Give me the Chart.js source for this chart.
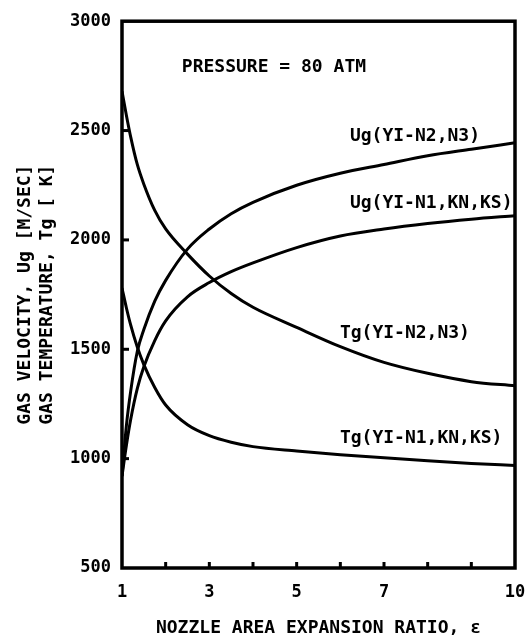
<!DOCTYPE html>
<html>
<head>
<meta charset="utf-8">
<script src="https://cdn.jsdelivr.net/npm/chart.js@4.4.0/dist/chart.umd.min.js"></script>
<style>
html, body { margin: 0; padding: 0; background: #fff; }
canvas { display: block; }
</style>
</head>
<body>
<canvas id="gasChart" width="528" height="640"></canvas>
<script>
// expansion ratio (x) shared by all four curves
var ratio = [1, 1.1, 1.2, 1.35, 1.5, 1.75, 2, 2.5, 3, 3.5, 4, 5, 6, 7, 8, 9, 10];
var ugN2N3 = [920, 1150, 1310, 1490, 1590, 1720, 1815, 1958, 2050, 2120, 2172, 2250, 2305, 2345, 2385, 2415, 2444];
var ugN1KnKs = [920, 1060, 1180, 1320, 1420, 1540, 1630, 1740, 1805, 1855, 1895, 1965, 2018, 2050, 2075, 2095, 2111];
var tgN2N3 = [2680, 2570, 2470, 2345, 2255, 2135, 2050, 1935, 1835, 1755, 1692, 1600, 1512, 1440, 1390, 1352, 1333];
var tgN1KnKs = [1780, 1690, 1610, 1510, 1430, 1325, 1245, 1155, 1105, 1075, 1055, 1035, 1018, 1004, 990, 978, 969];

var xTickLabels = [1, 3, 5, 7, 10];
var curveNames = ['Ug(YI-N2,N3)', 'Ug(YI-N1,KN,KS)', 'Tg(YI-N2,N3)', 'Tg(YI-N1,KN,KS)'];
var noteText = 'PRESSURE = 80 ATM';

var FONT = '"DejaVu Sans Mono", "Liberation Mono", monospace';

function pts(ys) {
    return ratio.map(function (r, i) { return { x: r, y: ys[i] }; });
}

function curve(ys) {
    return {
        data: pts(ys),
        borderColor: '#000',
        borderWidth: 3,
        pointRadius: 0,
        fill: false,
        cubicInterpolationMode: 'monotone'
    };
}

// frame, inward ticks and text labels placed through the scales
var frame = {
    id: 'frame',
    afterDatasetsDraw: function (chart, args, opts) {
        var ctx = chart.ctx, a = chart.chartArea;
        var sx = chart.scales.x, sy = chart.scales.y;
        ctx.save();
        ctx.strokeStyle = '#000';
        ctx.lineWidth = 3;
        sx.ticks.forEach(function (t) {
            if (t.value <= sx.min || t.value >= sx.max) return;
            var px = sx.getPixelForValue(t.value);
            ctx.beginPath();
            ctx.moveTo(px, a.bottom);
            ctx.lineTo(px, a.bottom - 6);
            ctx.stroke();
        });
        sy.ticks.forEach(function (t) {
            if (t.value <= sy.min || t.value >= sy.max) return;
            var py = sy.getPixelForValue(t.value);
            ctx.beginPath();
            ctx.moveTo(a.left, py);
            ctx.lineTo(a.left + 7, py);
            ctx.stroke();
        });
        ctx.lineWidth = 3.5;
        ctx.strokeRect(a.left, a.top, a.right - a.left, a.bottom - a.top);

        ctx.fillStyle = '#000';
        ctx.font = 'bold 18px ' + FONT;
        ctx.textAlign = 'left';
        ctx.textBaseline = 'middle';
        opts.labels.forEach(function (l) {
            ctx.fillText(l.text, sx.getPixelForValue(l.x), sy.getPixelForValue(l.y));
        });
        ctx.restore();
    }
};

var ctx = document.getElementById('gasChart').getContext('2d');
var gasChart = new Chart(ctx, {
    type: 'line',
    data: {
        datasets: [curve(ugN2N3), curve(ugN1KnKs), curve(tgN2N3), curve(tgN1KnKs)]
    },
    options: {
        responsive: false,
        animation: false,
        layout: { padding: { top: 19, right: 13, left: 0, bottom: 0 } },
        plugins: {
            legend: { display: false },
            tooltip: { enabled: false },
            frame: {
                labels: [
                    { text: noteText, x: 2.37, y: 2790 },
                    { text: curveNames[0], x: 6.22, y: 2472 },
                    { text: curveNames[1], x: 6.22, y: 2167 },
                    { text: curveNames[2], x: 5.99, y: 1575 },
                    { text: curveNames[3], x: 5.99, y: 1092 }
                ]
            }
        },
        scales: {
            x: {
                type: 'linear',
                min: 1,
                max: 10,
                grid: { display: false, drawTicks: false },
                border: { display: false },
                ticks: {
                    stepSize: 1,
                    autoSkip: false,
                    maxRotation: 0,
                    padding: 14,
                    color: '#000',
                    font: { family: FONT, size: 17, weight: 'bold' },
                    callback: function (v) { return xTickLabels.indexOf(v) >= 0 ? String(v) : ''; }
                },
                title: {
                    display: true,
                    text: 'NOZZLE AREA EXPANSION RATIO, ε',
                    color: '#000',
                    font: { family: FONT, size: 18, weight: 'bold', lineHeight: 1.25 },
                    padding: { top: 0, bottom: 0 }
                },
                afterFit: function (s) {
                    s.height = 72;
                    s.paddingRight = 0;
                    s.paddingLeft = 0;
                }
            },
            y: {
                min: 500,
                max: 3000,
                grid: { display: false, drawTicks: false },
                border: { display: false },
                ticks: {
                    stepSize: 500,
                    padding: 11,
                    color: '#000',
                    font: { family: FONT, size: 17, weight: 'bold' },
                    callback: function (v) { return String(v); }
                },
                title: {
                    display: true,
                    text: ['GAS VELOCITY, Ug [M/SEC]', 'GAS TEMPERATURE, Tg [ K]'],
                    color: '#000',
                    font: { family: FONT, size: 18, weight: 'bold', lineHeight: 1.25 },
                    padding: { top: 14, bottom: 0 }
                },
                afterFit: function (s) { s.width = 122; }
            }
        }
    },
    plugins: [frame]
});
</script>
</body>
</html>
